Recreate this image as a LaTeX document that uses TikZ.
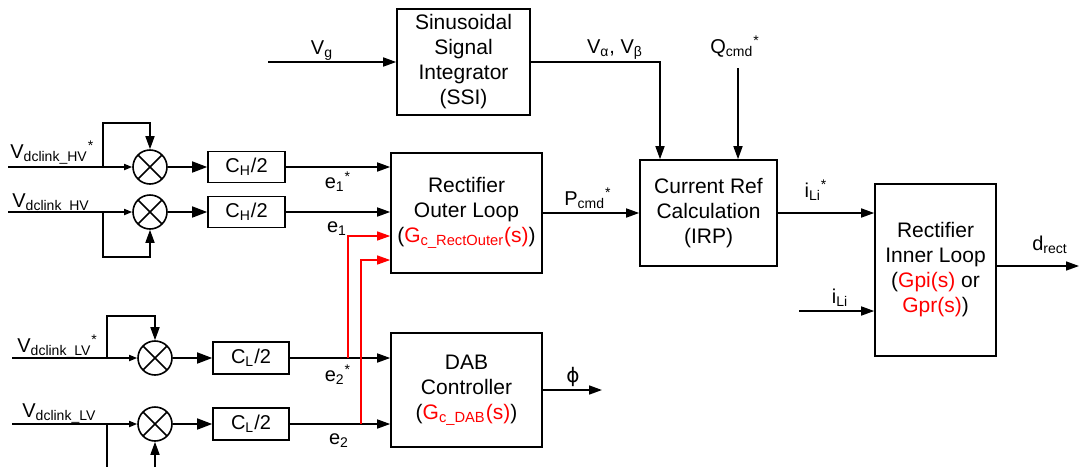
\documentclass[tikz,border=0pt]{standalone}
\usepackage{fontspec}
\setmainfont{Liberation Sans}
\newfontfamily\greekfont{DejaVu Sans}
\usepackage{tikz}
\usetikzlibrary{arrows.meta}
\definecolor{cred}{RGB}{255,0,0}
\newcommand{\lsub}[1]{\textsubscript{#1}}
\newcommand{\lstar}{\textsuperscript{*}}
\tikzset{
  blk/.style={draw,line width=0.8pt,align=center,inner sep=0pt,
    font=\fontsize{10.5}{12.5}\selectfont},
  gain/.style={blk,font=\fontsize{10}{12}\selectfont},
  sumjct/.style={draw,circle,line width=0.8pt,minimum size=17pt,inner sep=0pt,
    path picture={\draw[line width=0.8pt]
      (path picture bounding box.north west) -- (path picture bounding box.south east)
      (path picture bounding box.north east) -- (path picture bounding box.south west);}},
  wire/.style={line width=0.8pt},
  sig/.style={wire,->},
  sigsm/.style={wire,-{Triangle[length=4pt,width=3pt]}},
  sigbig/.style={wire,-{Triangle[length=7.5pt,width=5.5pt]}},
  sigred/.style={cred,line width=0.6pt,->},
  lbl/.style={inner sep=0pt,font=\fontsize{10}{12}\selectfont}
}

\begin{document}
\begin{tikzpicture}[x=0.5pt,y=-0.5pt,line join=miter,
  >={Triangle[length=6.5pt,width=4.5pt]}]

\useasboundingbox (0,0) rectangle (1079,467);

% =============================== blocks ===============================
\node[blk,minimum width=66.5pt,minimum height=53pt] (SSI) at (463.5,62)
  {Sinusoidal\\Signal\\Integrator\\(SSI)};
\node[blk,minimum width=75.5pt,minimum height=60pt] (OUT) at (466.5,213)
  {Rectifier\\Outer Loop\\(\textcolor{cred}{G\lsub{c\_RectOuter}(s)})};
\node[blk,minimum width=75.5pt,minimum height=57pt] (DAB) at (466.5,390)
  {DAB\\Controller\\(\textcolor{cred}{G\lsub{c\_DAB}(s)})};
\node[blk,minimum width=68.5pt,minimum height=53pt] (IRP) at (708.5,213)
  {Current Ref\\Calculation\\(IRP)};
\node[blk,minimum width=60.5pt,minimum height=86pt] (INL) at (935.5,270)
  {Rectifier\\Inner Loop\\(\textcolor{cred}{Gpi(s)} or\\\textcolor{cred}{Gpr(s)})};

% gains and summing junctions
\node[gain,minimum width=38.5pt,minimum height=15.5pt] (CH1) at (246.5,167) {C\lsub{H}/2};
\node[gain,minimum width=38.5pt,minimum height=15.5pt] (CH2) at (246.5,212) {C\lsub{H}/2};
\node[gain,minimum width=38pt,minimum height=16pt] (CL1) at (251,358) {C\lsub{L}/2};
\node[gain,minimum width=38pt,minimum height=16pt] (CL2) at (251,424) {C\lsub{L}/2};
\node[sumjct] (S1) at (150,167) {};
\node[sumjct] (S2) at (150,212) {};
\node[sumjct] (S3) at (155,358) {};
\node[sumjct] (S4) at (155,424) {};

% ============================= coordinates ============================
\coordinate (HVsin) at (8,167);   \coordinate (HVsbr) at (103,167);
\coordinate (HVin)  at (8,212);   \coordinate (HVbr)  at (103,212);
\coordinate (LVsin) at (12,358);  \coordinate (LVsbr) at (107,358);
\coordinate (LVin)  at (12,424);  \coordinate (LVbr)  at (107,424);
\coordinate (HVtop) at (103,123); \coordinate (HVbot) at (103,257);
\coordinate (LVtop) at (107,316); \coordinate (LVbot) at (107,467);
\coordinate (Ra) at (348,236);    \coordinate (Rb) at (361,260);
\coordinate (VGin) at (268,62);   \coordinate (VABc) at (660,62);
\coordinate (QCin) at (738,68);   \coordinate (ILin) at (799,311);
\coordinate (DRo) at (1079,266);  \coordinate (PHo) at (602,390);

% ============================= HV channel =============================
\draw[sigsm] (HVsin) -- (S1);
\draw[wire,->] (HVsbr) -- (HVtop) -- (HVtop -| S1) -- (S1);
\draw[sigbig] (S1) -- (CH1);
\draw[sig] (CH1) -- (CH1 -| OUT.west);
\draw[sigsm] (HVin) -- (S2);
\draw[wire,->] (HVbr) -- (HVbot) -- (HVbot -| S2) -- (S2);
\draw[sigbig] (S2) -- (CH2);
\draw[sig] (CH2) -- (CH2 -| OUT.west);

% ============================= LV channel =============================
\draw[sigsm] (LVsin) -- (S3);
\draw[wire,->] (LVsbr) -- (LVtop) -- (LVtop -| S3) -- (S3);
\draw[sigbig] (S3) -- (CL1);
\draw[sig] (CL1) -- (CL1 -| DAB.west);
\draw[sigsm] (LVin) -- (S4);
\draw[wire] (LVbr) -- (LVbot);
\draw[wire,->] (LVbot -| S4) -- (S4);
\draw[sigbig] (S4) -- (CL2);
\draw[sig] (CL2) -- (CL2 -| DAB.west);

% LV errors fed to the outer loop
\draw[sigred] (Ra |- CL1) -- (Ra) -- (Ra -| OUT.west);
\draw[sigred] (Rb |- CL2) -- (Rb) -- (Rb -| OUT.west);

% ============================ upper path ==============================
\draw[sig] (VGin) -- (SSI.west);
\draw[sig] (SSI.east) -- (VABc) -- (VABc |- IRP.north);
\draw[sig] (QCin) -- (QCin |- IRP.north);
\draw[sig] (OUT.east |- IRP) -- (IRP.west);
\draw[sig] (IRP.east) -- (IRP.east -| INL.west);
\draw[sig] (ILin) -- (ILin -| INL.west);
\draw[sig] (INL.east |- DRo) -- (DRo);
\draw[sig] (DAB.east |- PHo) -- (PHo);

% =============================== labels ===============================
\node[lbl,anchor=base west] (lHVs) at (10,158) {V\lsub{dclink\_HV}\lstar};
\node[lbl,anchor=base west] (lHV)  at (12,207) {V\lsub{dclink\_HV}};
\node[lbl,anchor=base west] (lLVs) at (17,352) {V\lsub{dclink\_LV}\lstar};
\node[lbl,anchor=base west] (lLV)  at (22,417) {V\lsub{dclink\_LV}};
\node[lbl] (le1s) at (338,182) {e\lsub{1}\lstar};
\node[lbl] (le1)  at (337,229) {e\lsub{1}};
\node[lbl] (le2s) at (338,375) {e\lsub{2}\lstar};
\node[lbl] (le2)  at (339,441) {e\lsub{2}};
\node[lbl,anchor=base] (lVg)  at (322,54) {V\lsub{g}};
\node[lbl,anchor=base] (lVab) at (615,53) {V\lsub{α}, V\lsub{β}};
\node[lbl,anchor=base] (lQ)   at (735,53) {Q\lsub{cmd}\lstar};
\node[lbl,anchor=base] (lP)   at (588,205) {P\lsub{cmd}\lstar};
\node[lbl,anchor=base] (lIs)  at (816,197) {i\lsub{Li}\lstar};
\node[lbl,anchor=base] (lI)   at (840,303) {i\lsub{Li}};
\node[lbl,anchor=base] (lD)   at (1050,250) {d\lsub{rect}};
\node[lbl] (lPhi) at (573,377) {\greekfont ϕ};

\end{tikzpicture}
\end{document}
